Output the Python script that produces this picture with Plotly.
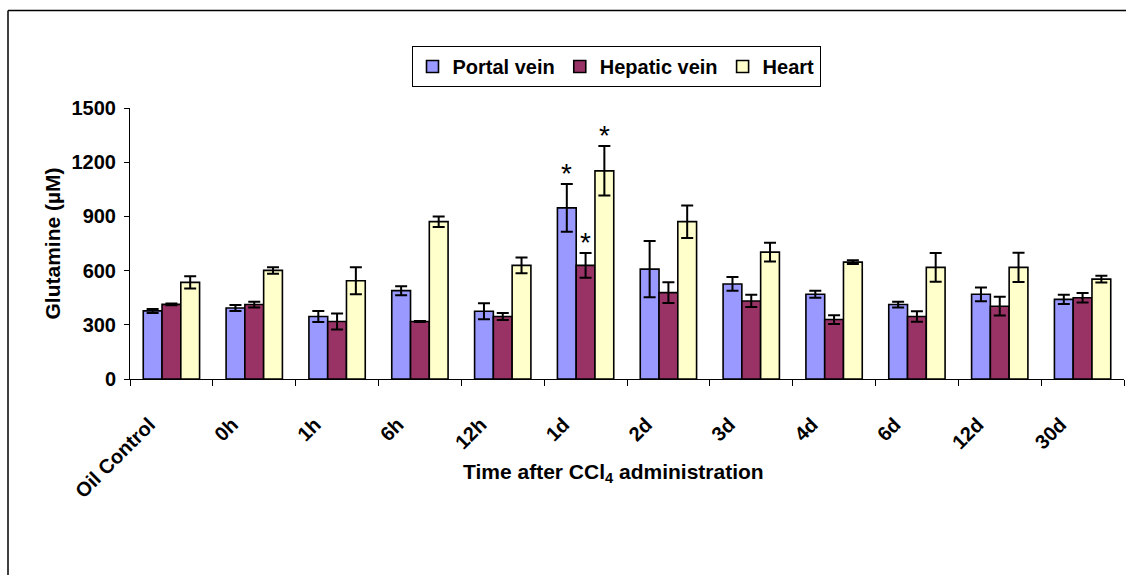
import plotly.graph_objects as go

# Glutamine concentrations (µM) per sampling site after CCl4 administration
categories = ["Oil Control", "0h", "1h", "6h", "12h", "1d", "2d", "3d", "4d", "6d", "12d", "30d"]

portal_vein = [377, 393, 346, 489, 375, 947, 608, 526, 469, 412, 469, 441]
portal_vein_err = [11, 16, 30, 25, 44, 132, 156, 38, 19, 16, 38, 26]

hepatic_vein = [413, 412, 318, 318, 346, 629, 478, 432, 329, 346, 403, 450]
hepatic_vein_err = [5, 16, 44, 3, 19, 68, 58, 34, 24, 29, 52, 26]

heart = [535, 601, 544, 871, 629, 1152, 871, 702, 647, 618, 618, 553]
heart_err = [34, 18, 75, 29, 44, 137, 90, 52, 10, 80, 81, 19]

# significance markers: (category, series index)
significant = [("1d", 0), ("1d", 1), ("1d", 2)]

series = [
    ("Portal vein", portal_vein, portal_vein_err, "#9999FF"),
    ("Hepatic vein", hepatic_vein, hepatic_vein_err, "#993366"),
    ("Heart", heart, heart_err, "#FFFFCC"),
]

FONT = "Liberation Sans, Arial, sans-serif"

# plot-area geometry in pixels
W, H = 1126, 575
ML, MR, MT, MB = 130, 2, 108, 196
PW = W - ML - MR
PH = H - MT - MB
BARGAP = 0.32

fig = go.Figure()
for name, vals, errs, color in series:
    fig.add_trace(go.Bar(
        name=name,
        x=categories,
        y=vals,
        marker=dict(color=color, line=dict(color="#000000", width=1.6)),
        error_y=dict(type="data", array=errs, visible=True,
                     color="#000000", thickness=2, width=6),
    ))

# asterisks above the error bars of significant values
cat_px = PW / len(categories)
bar_px = cat_px * (1 - BARGAP) / len(series)
for cat, si in significant:
    i = categories.index(cat)
    _, vals, errs, _ = series[si]
    fig.add_annotation(
        x=cat, y=vals[i] + errs[i], xref="x", yref="y",
        xshift=(si - 1) * bar_px, yshift=-7,
        text="*", showarrow=False, yanchor="bottom",
        font=dict(family=FONT, size=28, color="#000000"),
    )

# axis titles
fig.add_annotation(
    x=(613 - ML) / PW, y=(H - MB - 473) / PH, xref="paper", yref="paper",
    text="Time after CCl<sub>4</sub> administration", showarrow=False,
    xanchor="center", yanchor="middle",
    font=dict(family=FONT, size=21, color="#000000", weight="bold"),
)
fig.add_annotation(
    x=(52 - ML) / PW, y=0.5, xref="paper", yref="paper",
    text="Glutamine (µM)", showarrow=False, textangle=-90,
    xanchor="center", yanchor="middle",
    font=dict(family=FONT, size=21, color="#000000", weight="bold"),
)

# outer chart frame (left and top edges)
fx = (8 - ML) / PW
fy = (H - MB - 10.5) / PH
fig.add_shape(type="line", xref="paper", yref="paper",
              x0=fx, x1=fx, y0=fy, y1=-5, line=dict(color="#000000", width=1.5))
fig.add_shape(type="line", xref="paper", yref="paper",
              x0=fx, x1=5, y0=fy, y1=fy, line=dict(color="#000000", width=1.5))

fig.update_layout(
    width=W, height=H,
    margin=dict(l=ML, r=MR, t=MT, b=MB, pad=0),
    paper_bgcolor="#FFFFFF", plot_bgcolor="#FFFFFF",
    barmode="group", bargap=BARGAP, bargroupgap=0,
    font=dict(family=FONT, size=20, color="#000000"),
    showlegend=True,
    legend=dict(
        orientation="h", x=(616 - ML) / PW, y=(H - MB - 46) / PH,
        xanchor="center", yanchor="top",
        bordercolor="#000000", borderwidth=1, bgcolor="#FFFFFF",
        font=dict(family=FONT, size=20, color="#000000", weight="bold"),
        itemwidth=30, tracegroupgap=0,
    ),
    xaxis=dict(
        type="category", showline=True, linecolor="#000000", linewidth=1,
        ticks="outside", tickson="boundaries", ticklen=6, tickcolor="#000000",
        tickangle=-45, showgrid=False, zeroline=False,
        ticklabelstandoff=25, ticklabelshift=-22,
        tickfont=dict(family=FONT, size=20, color="#000000", weight="bold"),
    ),
    yaxis=dict(
        range=[0, 1500], tickvals=[0, 300, 600, 900, 1200, 1500],
        showline=True, linecolor="#000000", linewidth=1,
        ticks="outside", ticklen=5, tickcolor="#000000",
        showgrid=False, zeroline=False, ticklabelstandoff=4,
        tickfont=dict(family=FONT, size=20, color="#000000", weight="bold"),
    ),
)

fig.write_html("out.html")
